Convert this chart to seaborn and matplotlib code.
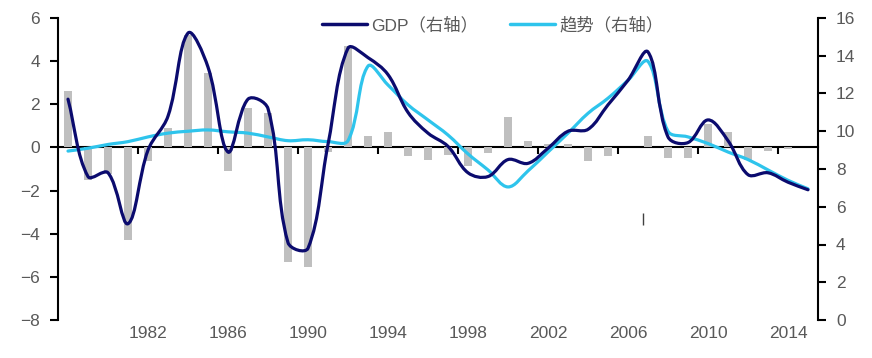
import numpy as np
import pandas as pd
import seaborn as sns
import matplotlib
matplotlib.use('Agg')
import matplotlib.pyplot as plt
from matplotlib.path import Path
from matplotlib.patches import PathPatch
from matplotlib.lines import Line2D

# values
years = list(range(1978, 2016))
gdp = [11.7, 7.6, 7.8, 5.1, 9.0, 10.8, 15.2, 13.4, 8.9, 11.7,
       11.2, 4.1, 3.8, 9.3, 14.4, 13.9, 13.0, 11.0, 9.9, 9.2,
       7.8, 7.6, 8.5, 8.3, 9.1, 10.0, 10.1, 11.4, 12.7, 14.2,
       9.7, 9.4, 10.6, 9.5, 7.7, 7.8, 7.3, 6.9]
trend = [8.95, 9.1, 9.3, 9.45, 9.7, 9.9, 10.0, 10.07, 9.97, 9.9,
         9.7, 9.5, 9.55, 9.45, 9.5, 13.45, 12.45, 11.4, 10.6, 9.8,
         8.8, 7.95, 7.05, 7.9, 8.9, 9.9, 10.95, 11.75, 12.7, 13.7,
         10.0, 9.7, 9.35, 8.9, 8.5, 7.95, 7.4, 6.95]
cycle = [2.6, -1.5, -1.25, -4.3, -0.65, 0.9, 5.2, 3.45, -1.1, 1.85,
         1.6, -5.3, -5.55, -0.2, 4.7, 0.55, 0.7, -0.4, -0.6, -0.35,
         -0.85, -0.25, 1.4, 0.3, 0.15, 0.15, -0.65, -0.4, 0.0, 0.55,
         -0.5, -0.5, 1.1, 0.7, -0.6, -0.15, -0.05, 0.0]
label_years = [1982, 1986, 1990, 1994, 1998, 2002, 2006, 2010, 2014]
left_ticks = list(range(-8, 7, 2))
right_ticks = list(range(0, 17, 2))
labels = ['GDP（右轴）', '趋势（右轴）']

NAVY = '#0B0B6E'
CYAN = '#2EC4EC'
GREY = '#BFBFBF'
TXT = '#595959'


def smooth_path(xs, ys, sx=20.0, sy=18.9, t=0.36):
    # smoothed line like the office charts: bezier segments whose control arms
    # follow the neighbour direction, scaled by the on-screen segment lengths
    pts = np.column_stack([np.asarray(xs) * sx, np.asarray(ys) * sy]).astype(float)
    n = len(pts)
    arm_in = np.zeros_like(pts)
    arm_out = np.zeros_like(pts)
    for i in range(n):
        p0 = pts[max(i - 1, 0)]
        p2 = pts[min(i + 1, n - 1)]
        d0 = np.hypot(*(pts[i] - p0))
        d2 = np.hypot(*(p2 - pts[i]))
        if d0 + d2 == 0:
            continue
        tang = (p2 - p0)
        arm_in[i] = -tang * t * d0 / (d0 + d2)
        arm_out[i] = tang * t * d2 / (d0 + d2)
    verts = [pts[0]]
    codes = [Path.MOVETO]
    for i in range(n - 1):
        verts += [pts[i] + arm_out[i], pts[i + 1] + arm_in[i + 1], pts[i + 1]]
        codes += [Path.CURVE4] * 3
    verts = np.array(verts) / [sx, sy]
    return Path(verts, codes)


sns.set_theme(style='white')
plt.rcParams['font.family'] = ['Liberation Sans', 'Noto Sans CJK SC', 'DejaVu Sans']
fs = 12.5

fig = plt.figure(figsize=(8.72, 3.58), dpi=100)
ax = fig.add_axes([58 / 872, 1 - 320 / 358, 760 / 872, 302 / 358])

df = pd.DataFrame({'year': years, 'cycle': cycle})
sns.barplot(data=df, x='year', y='cycle', color=GREY, width=0.4, saturation=1,
            linewidth=0, ax=ax)
ax.set_xlim(-0.5, len(years) - 0.5)
ax.set_ylim(-8, 6)
ax.set_yticks(left_ticks)
ax.set_xticks([years.index(y) for y in label_years])
ax.set_xticklabels([str(y) for y in label_years])
ax.set_xlabel('')
ax.set_ylabel('')
for s in ['top', 'right', 'bottom']:
    ax.spines[s].set_visible(False)
ax.spines['left'].set_color('black')
ax.spines['left'].set_linewidth(1.5)
ax.tick_params(axis='x', length=0, pad=4, labelsize=fs, labelcolor=TXT)
ax.tick_params(axis='y', left=True, direction='out', length=6, width=1.5,
               color='black', labelsize=fs, labelcolor=TXT, pad=7)

# zero line of the left axis carries the category tick marks
zero = ax.secondary_xaxis(8 / 14)
zero.set_alignment('bottom')
zero.set_xticks([i - 0.5 for i in range(4, len(years), 4)])
zero.tick_params(axis='x', direction='out', length=5, width=1.5, color='black',
                 labelbottom=False, labeltop=False)
zero.spines['bottom'].set_linewidth(1.5)
zero.spines['bottom'].set_color('black')

ax2 = ax.twinx()
ax2.set_ylim(0, 16)
ax2.set_yticks(right_ticks)
for s in ['top', 'left', 'bottom']:
    ax2.spines[s].set_visible(False)
ax2.spines['right'].set_color('black')
ax2.spines['right'].set_linewidth(1.5)
ax2.tick_params(axis='y', right=True, direction='out', length=6, width=1.5,
                color='black', labelsize=fs, labelcolor=TXT, pad=7)
ax2.grid(False)
ax.grid(False)

xs = np.arange(len(years))
ax2.add_patch(PathPatch(smooth_path(xs, trend), facecolor='none', edgecolor=CYAN,
                        lw=2.3, capstyle='round', joinstyle='round'))
ax2.add_patch(PathPatch(smooth_path(xs, gdp), facecolor='none', edgecolor=NAVY,
                        lw=2.3, capstyle='round', joinstyle='round'))

# stray mark in the original image
ax.vlines(28.75, -3.6, -3.05, color='#404040', lw=1)

handles = [Line2D([], [], color=NAVY, lw=2.5), Line2D([], [], color=CYAN, lw=2.5)]
leg = fig.legend(handles, labels, loc='center', bbox_to_anchor=(0.565, 0.930),
                 ncol=2, frameon=False, fontsize=fs, handlelength=2.6,
                 handletextpad=0.25, columnspacing=1.8)
for t in leg.get_texts():
    t.set_color(TXT)

fig.savefig('out.png', dpi=100)
